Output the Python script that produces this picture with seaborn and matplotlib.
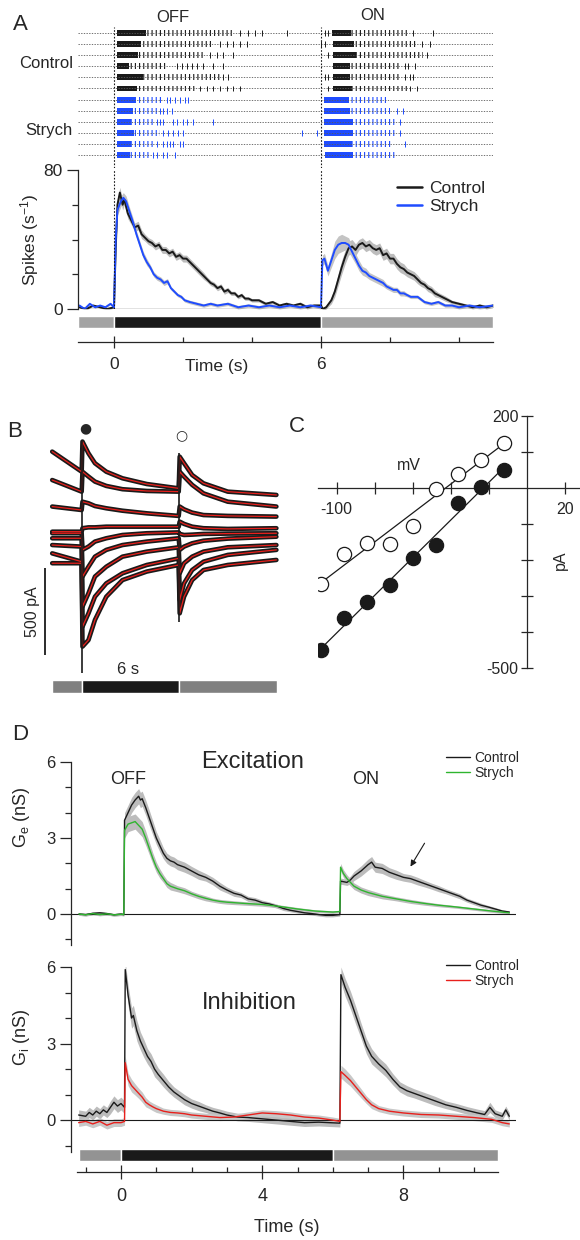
import numpy as np
import matplotlib
matplotlib.use("Agg")
import matplotlib.pyplot as plt
from matplotlib.lines import Line2D
import seaborn as sns

sns.set_theme(style="white")
plt.rcParams["font.family"] = ["Liberation Sans", "DejaVu Sans"]
plt.rcParams["mathtext.fontset"] = "custom"
plt.rcParams["mathtext.rm"] = "Liberation Sans"
plt.rcParams["mathtext.it"] = "Liberation Sans"
plt.rcParams["hatch.linewidth"] = 0.8
plt.rcParams["axes.linewidth"] = 0.9

# ---------------- DATA ----------------
# Panel A raster: per trial (burst start, burst end), sparse spikes (s)
raster_colors = ["k"] * 6 + ["#1f4cff"] * 6
off_burst = [(0.08, 3.46), (0.08, 2.88), (0.08, 2.59), (0.08, 1.53), (0.08, 3.07), (0.08, 2.40),
             (0.08, 1.43), (0.08, 1.24), (0.08, 1.14), (0.08, 1.33), (0.08, 1.14), (0.08, 1.04)]
off_sparse = [[3.65, 3.89, 4.09, 4.28, 5.0], [3.07, 3.27, 3.46, 3.65, 3.85], [2.78, 2.98, 3.17, 3.46],
              [1.82, 1.96, 2.11, 2.25, 2.40, 2.59, 2.88, 3.17], [3.17, 3.31],
              [2.49, 2.69, 2.88, 3.07, 3.27, 3.46, 3.65],
              [1.53, 1.62, 1.77, 1.91, 2.06, 2.15], [1.33, 1.43, 1.53, 1.67],
              [1.24, 1.33, 1.43, 1.72, 1.82, 2.01, 2.11, 2.30, 2.88],
              [1.43, 1.57, 1.72, 1.86, 2.01, 5.44, 5.87], [1.24, 1.43, 1.53, 1.62, 1.72, 1.91, 2.01],
              [1.14, 1.24, 1.43, 1.53, 1.77]]
on_burst = [(6.31, 8.53), (6.36, 8.77), (6.36, 8.97), (6.36, 8.29), (6.36, 8.29), (6.36, 8.48),
            (6.09, 7.90), (6.09, 8.00), (6.09, 8.19), (6.09, 8.19), (6.09, 8.10), (6.12, 8.14)]
on_sparse = [[6.12, 6.21, 8.68, 9.26], [5.99, 6.12, 8.92, 9.16], [6.21, 9.06], [8.43, 8.53, 8.72],
             [6.12, 6.21, 8.43, 8.58, 8.68], [6.21, 8.58, 8.77], [], [8.19, 8.39], [8.29], [8.29],
             [8.43], []]

# Panel A PSTH: (time s, rate spikes/s, sem)
spk_ctrl = [(-1.0,1,0.5),(-0.8,0,0.5),(-0.6,2,0.5),(-0.4,1,0.5),(-0.2,0,0.5),(0.0,1,0.5),(0.05,35,3),
            (0.1,60,3),(0.17,67,3),(0.25,60,3),(0.3,63,3),(0.4,55,3),(0.5,51,2.5),(0.6,47,2.5),
            (0.7,48,2.5),(0.8,43,2.5),(0.9,41,2),(1.0,39,2),(1.1,38,2),(1.2,36,2),(1.3,37,2),(1.4,34,2),
            (1.5,34,2),(1.6,32,2),(1.7,33,2),(1.8,30,2),(1.9,31,2),(2.0,29,2),(2.1,29,2),(2.2,27,2),
            (2.3,25,2),(2.4,23,2),(2.5,21,2),(2.6,19,2),(2.7,17,1.5),(2.8,15,1.5),(2.9,14,1.5),
            (3.0,12,1.5),(3.1,13,1.5),(3.2,10,1.5),(3.3,11,1.5),(3.4,9,1.2),(3.5,9,1.2),(3.6,7,1.2),
            (3.7,8,1.2),(3.8,6,1),(3.9,6,1),(4.0,5,1),(4.2,5,1),(4.4,3,1),(4.6,4,1),(4.8,2,1),(5.0,3,1),
            (5.2,2,1),(5.4,3,1),(5.6,1,1),(5.8,2,1),(6.0,2,1),(6.05,0,1),(6.15,1,1),(6.3,5,2),(6.4,10,3),
            (6.5,17,3.5),(6.6,24,4),(6.7,30,4),(6.8,35,4),(6.9,36,4),(7.0,34,3.5),(7.1,37,3),(7.2,38,3),
            (7.3,36,3),(7.4,37,3),(7.5,35,3),(7.6,34,3),(7.7,35,3),(7.8,31,3),(7.9,32,3),(8.0,29,3),
            (8.1,29,3),(8.2,26,3),(8.3,24,3),(8.4,23,3),(8.5,21,2.5),(8.6,20,2.5),(8.7,19,2.5),
            (8.8,17,2.5),(8.9,15,2),(9.0,14,2),(9.1,12,2),(9.2,11,2),(9.3,9,2),(9.4,8,1.5),(9.5,7,1.5),
            (9.6,6,1.5),(9.8,4,1),(10.0,3,1),(10.2,2,1),(10.4,1,1),(10.6,2,1),(10.8,1,1),(10.99,2,1)]
spk_str = [(-1.0,2,0.5),(-0.85,0,0.5),(-0.7,3,0.5),(-0.55,1,0.5),(-0.4,2,0.5),(-0.25,1,0.5),
           (-0.1,3,0.5),(0.0,1,0.5),(0.05,40,3),(0.1,57,3),(0.2,62,3),(0.27,64,3),(0.35,62,3),
           (0.45,56,2.5),(0.55,50,2.5),(0.65,43,2),(0.75,37,2),(0.85,31,2),(0.95,27,2),(1.05,24,1.5),
           (1.15,20,1.5),(1.25,18,1.5),(1.35,17,1.5),(1.45,15,1.5),(1.55,16,1.5),(1.65,12,1),
           (1.75,10,1),(1.85,8,1),(1.95,7,1),(2.05,5,1),(2.2,4,1),(2.4,3,1),(2.6,2,1),(2.8,3,1),
           (3.0,2,1),(3.3,3,1),(3.6,1,1),(3.9,2,1),(4.2,1,1),(4.5,2,1),(4.8,1,1),(5.1,2,1),(5.4,1,1),
           (5.7,2,1),(6.0,1,1),(6.04,28,3),(6.1,29,3),(6.2,22,3),(6.3,28,4),(6.4,34,5),(6.5,37,5),
           (6.6,38,5),(6.7,38,4),(6.8,37,4),(6.9,33,3.5),(7.0,29,3),(7.1,25,3),(7.2,22,2.5),
           (7.3,21,2.5),(7.4,19,2),(7.5,18,2),(7.6,17,2),(7.7,16,2),(7.8,15,2),(7.9,13,1.5),
           (8.0,12,1.5),(8.1,11,1.5),(8.2,11,1.5),(8.3,9,1.5),(8.4,9,1.5),(8.5,8,1),(8.6,7,1),
           (8.8,7,1),(9.0,4,1),(9.2,3,1),(9.4,4,1),(9.6,2,1),(9.8,2,1),(10.0,1,1),(10.3,2,1),
           (10.6,1,1),(10.99,2,1)]

# Panel B: membrane currents (pA) at several holding potentials
B_t = [-1.84, -0.02, 0.03, 0.4, 0.8, 1.5, 2.5, 4.0, 5.97, 6.03, 6.3, 6.8, 7.5, 9.0, 12.0]
B_traces = [
    [529, 413, 587, 519, 462, 413, 375, 342, 317, 500, 462, 394, 346, 298, 279],
    [365, 298, 413, 385, 356, 331, 312, 302, 298, 413, 385, 337, 288, 240, 212],
    [212, 192, 240, 231, 215, 202, 188, 173, 158, 212, 196, 177, 163, 158, 154],
    [67, 67, 87, 92, 92, 96, 96, 96, 96, 125, 112, 96, 87, 83, 87],
    [58, 58, -38, -19, 10, 29, 48, 58, 63, 54, 48, 50, 54, 56, 58],
    [29, 29, -192, -135, -77, -38, -10, 10, 29, -38, -19, 0, 15, 27, 38],
    [-10, -19, -365, -288, -192, -135, -77, -48, -23, -173, -115, -77, -48, -23, -10],
    [-58, -106, -481, -404, -308, -231, -173, -125, -87, -327, -231, -154, -106, -67, -38],
    [-115, -115, -596, -558, -442, -308, -212, -163, -125, -404, -308, -212, -154, -125, -96],
]
B_artifact = [(0.0, -750, 596), (6.0, -452, 521)]
B_scale_pA = 500

# Panel C: I-V relation
iv_v = [-108, -96, -84, -72, -60, -48, -36, -24, -12]
iv_open = [-266, -184, -154, -155, -105, -2, 39, 78, 126]
iv_filled = [-451, -362, -318, -269, -195, -158, -41, 4, 50]

# Panel D: conductances (time s, mean nS, sem)
ge_ctrl = [(-1.19,0.0,0.05),(-1.0,-0.02,0.05),(-0.8,0.03,0.05),(-0.6,0.05,0.05),(-0.4,0.02,0.05),
           (-0.2,-0.03,0.05),(0.0,0.0,0.05),(0.08,-0.02,0.05),(0.1,3.7,0.3),(0.2,4.0,0.3),(0.3,4.3,0.3),
           (0.4,4.5,0.3),(0.5,4.65,0.3),(0.55,4.5,0.3),(0.6,4.55,0.3),(0.7,4.2,0.3),(0.8,3.8,0.3),
           (0.9,3.4,0.28),(1.0,3.0,0.25),(1.1,2.7,0.25),(1.2,2.4,0.22),(1.3,2.2,0.2),(1.4,2.1,0.2),
           (1.5,2.05,0.2),(1.6,1.95,0.2),(1.8,1.85,0.2),(2.0,1.7,0.18),(2.2,1.55,0.18),(2.4,1.45,0.15),
           (2.6,1.3,0.15),(2.8,1.1,0.15),(3.0,0.95,0.12),(3.2,0.82,0.12),(3.4,0.75,0.1),(3.6,0.6,0.1),
           (3.8,0.55,0.1),(4.0,0.45,0.1),(4.2,0.4,0.08),(4.4,0.32,0.08),(4.6,0.22,0.08),(4.8,0.15,0.06),
           (5.0,0.1,0.06),(5.2,0.05,0.06),(5.4,0.02,0.06),(5.6,-0.02,0.06),(5.8,-0.05,0.06),
           (6.0,-0.05,0.06),(6.2,-0.02,0.06),(6.22,1.3,0.12),(6.4,1.25,0.12),(6.5,1.35,0.15),
           (6.6,1.5,0.18),(6.8,1.7,0.2),(7.0,1.95,0.22),(7.1,2.05,0.22),(7.2,1.85,0.2),(7.4,1.8,0.2),
           (7.6,1.65,0.18),(7.8,1.55,0.18),(8.0,1.45,0.15),(8.2,1.4,0.15),(8.4,1.3,0.15),(8.6,1.2,0.13),
           (8.8,1.1,0.12),(9.0,1.0,0.12),(9.2,0.9,0.1),(9.4,0.8,0.1),(9.6,0.7,0.1),(9.8,0.55,0.08),
           (10.0,0.45,0.08),(10.2,0.35,0.08),(10.4,0.28,0.06),(10.6,0.2,0.06),(10.8,0.12,0.05),
           (11.0,0.08,0.05)]
ge_str = [(-1.19,0.0,0.05),(-1.0,-0.03,0.05),(-0.8,0.02,0.05),(-0.6,-0.02,0.05),(-0.4,0.01,0.05),
          (-0.2,-0.03,0.05),(0.0,-0.01,0.05),(0.08,-0.02,0.05),(0.1,3.3,0.3),(0.2,3.55,0.3),
          (0.3,3.6,0.3),(0.4,3.65,0.3),(0.5,3.5,0.3),(0.6,3.35,0.3),(0.7,3.0,0.28),(0.8,2.6,0.25),
          (0.9,2.2,0.22),(1.0,1.85,0.2),(1.1,1.6,0.18),(1.2,1.4,0.15),(1.3,1.2,0.15),(1.4,1.1,0.15),
          (1.6,1.0,0.12),(1.8,0.92,0.12),(2.0,0.8,0.1),(2.2,0.7,0.1),(2.4,0.62,0.1),(2.6,0.55,0.08),
          (2.8,0.5,0.08),(3.0,0.47,0.08),(3.5,0.42,0.07),(4.0,0.38,0.07),(4.5,0.3,0.06),(5.0,0.2,0.06),
          (5.5,0.12,0.05),(6.0,0.08,0.05),(6.2,0.1,0.05),(6.22,1.85,0.15),(6.3,1.6,0.15),(6.4,1.4,0.15),
          (6.6,1.1,0.13),(6.8,0.95,0.12),(7.0,0.85,0.12),(7.4,0.7,0.1),(7.8,0.6,0.08),(8.2,0.5,0.08),
          (8.6,0.42,0.07),(9.0,0.35,0.06),(9.5,0.28,0.05),(10.0,0.2,0.05),(10.5,0.12,0.05),
          (11.0,0.05,0.05)]
gi_ctrl = [(-1.2,0.2,0.2),(-1.0,0.15,0.2),(-0.9,0.3,0.2),(-0.8,0.2,0.2),(-0.7,0.35,0.2),(-0.6,0.25,0.2),
           (-0.5,0.4,0.2),(-0.4,0.3,0.2),(-0.3,0.5,0.25),(-0.2,0.7,0.25),(-0.1,0.55,0.25),(0.0,0.65,0.25),
           (0.1,0.5,0.25),(0.12,5.9,0.3),(0.2,4.9,0.4),(0.3,4.0,0.4),(0.35,4.1,0.4),(0.45,3.5,0.4),
           (0.55,3.1,0.35),(0.65,2.8,0.35),(0.75,2.5,0.3),(0.85,2.3,0.3),(0.95,2.0,0.3),(1.05,1.8,0.25),
           (1.2,1.55,0.25),(1.35,1.3,0.22),(1.5,1.1,0.2),(1.65,0.95,0.2),(1.8,0.8,0.2),(2.0,0.65,0.18),
           (2.2,0.55,0.18),(2.4,0.45,0.15),(2.6,0.35,0.15),(2.8,0.28,0.15),(3.0,0.2,0.15),(3.3,0.12,0.15),
           (3.6,0.1,0.15),(4.0,0.05,0.15),(4.4,0.0,0.15),(4.8,-0.05,0.15),(5.2,-0.1,0.15),(5.6,-0.08,0.15),
           (5.9,-0.1,0.15),(6.2,-0.12,0.15),(6.23,5.7,0.3),(6.35,5.2,0.35),(6.5,4.7,0.35),(6.65,4.1,0.35),
           (6.8,3.5,0.3),(6.95,2.9,0.3),(7.1,2.5,0.3),(7.3,2.2,0.25),(7.5,1.95,0.25),(7.7,1.6,0.22),
           (7.9,1.3,0.2),(8.1,1.15,0.2),(8.3,1.05,0.18),(8.6,0.9,0.18),(8.9,0.75,0.18),(9.2,0.6,0.15),
           (9.5,0.5,0.15),(9.8,0.38,0.15),(10.1,0.28,0.15),(10.3,0.22,0.15),(10.45,0.5,0.2),(10.6,0.25,0.15),
           (10.8,0.15,0.15),(10.9,0.4,0.15),(11.0,0.15,0.15)]
gi_str = [(-1.2,-0.1,0.15),(-1.0,-0.05,0.15),(-0.8,-0.15,0.15),(-0.6,-0.05,0.15),(-0.4,-0.2,0.15),
          (-0.2,-0.1,0.15),(0.0,-0.1,0.15),(0.1,-0.05,0.15),(0.12,2.25,0.25),(0.2,1.6,0.25),
          (0.3,1.35,0.25),(0.4,1.2,0.22),(0.5,1.05,0.2),(0.6,0.9,0.2),(0.7,0.7,0.18),(0.8,0.6,0.15),
          (0.9,0.52,0.15),(1.0,0.45,0.15),(1.2,0.35,0.12),(1.4,0.3,0.12),(1.6,0.28,0.12),(1.8,0.25,0.12),
          (2.0,0.2,0.12),(2.4,0.15,0.12),(2.8,0.1,0.12),(3.2,0.12,0.12),(3.6,0.2,0.12),(4.0,0.28,0.12),
          (4.4,0.25,0.12),(4.8,0.2,0.12),(5.2,0.12,0.12),(5.6,0.08,0.12),(6.0,0.0,0.12),(6.2,-0.05,0.12),
          (6.23,1.9,0.25),(6.35,1.75,0.25),(6.5,1.55,0.22),(6.65,1.3,0.2),(6.8,1.05,0.18),(6.95,0.8,0.15),
          (7.1,0.6,0.15),(7.3,0.45,0.12),(7.6,0.35,0.12),(8.0,0.28,0.12),(8.5,0.22,0.12),(9.0,0.2,0.12),
          (9.5,0.15,0.12),(10.0,0.1,0.12),(10.5,0.03,0.12),(10.8,-0.1,0.12),(11.0,-0.15,0.12)]

# stimulus timing (s): light off at 0, on at 6
stim_off, stim_on = 0.0, 6.0

# ---------------- FIGURE ----------------
W, H = 580, 1240
fig = plt.figure(figsize=(W / 100, H / 100), dpi=100)


def add_ax(x0, y0, x1, y1):
    ax = fig.add_axes([x0 / W, 1 - y1 / H, (x1 - x0) / W, (y1 - y0) / H])
    ax.set_facecolor("none")
    for s in ax.spines.values():
        s.set_visible(False)
    ax.set_xticks([])
    ax.set_yticks([])
    ax.grid(False)
    return ax


def ftext(x, y, s, **kw):
    kw.setdefault("ha", "center")
    kw.setdefault("va", "center")
    fig.text(x / W, 1 - y / H, s, **kw)


def trace(ax, series, color, band_color, lw=1.2):
    t, m, s = (np.array(a, dtype=float) for a in zip(*series))
    ax.fill_between(t, m - s, m + s, color=band_color, lw=0)
    sns.lineplot(x=t, y=m, ax=ax, color=color, lw=lw, estimator=None, sort=False, legend=False)


def stim_bar(ax, tmin, tmax, y, h, gray):
    ax.broken_barh([(tmin, stim_off - tmin)], (y, h), facecolors=gray)
    ax.broken_barh([(stim_off, stim_on - stim_off)], (y, h), facecolors="k")
    ax.broken_barh([(stim_on, tmax - stim_on)], (y, h), facecolors=gray)


# ===== Panel A =====
A_xlim = ((78 - 114) / 34.5, (493 - 114) / 34.5)
axr = add_ax(78, 27, 493, 168)
axr.set_xlim(*A_xlim)
axr.set_ylim((168 - 33) / 11.1, (27 - 33) / 11.1)
for i in range(12):
    c = raster_colors[i]
    frac = 0.25 if i < 6 else 0.4
    axr.hlines(i, A_xlim[0], A_xlim[1], colors="0.35", lw=0.6, linestyles=(0, (1.6, 1.6)))
    for (b0, b1) in (off_burst[i], on_burst[i]):
        solid = b0 + frac * (b1 - b0)
        axr.broken_barh([(b0, solid - b0)], (i - 0.27, 0.54), facecolors=c, lw=0)
        axr.broken_barh([(solid, b1 - solid)], (i - 0.27, 0.54), facecolors="none",
                        edgecolors=c, hatch="||||", lw=0)
    axr.eventplot([off_sparse[i] + on_sparse[i]], lineoffsets=i, linelengths=0.54,
                  linewidths=0.7, colors=c)
for tv in (stim_off, stim_on):
    axr.axvline(tv, color="k", lw=0.8, ls=(0, (1.5, 1.5)))

axs = add_ax(78, 170, 493, 309)
axs.set_xlim(*A_xlim)
axs.set_ylim(0, 80)
trace(axs, spk_ctrl, "k", "#bdbdbd", lw=1.4)
trace(axs, spk_str, "#1f4cff", "#c4c4c4", lw=1.4)
for tv in (stim_off, stim_on):
    axs.axvline(tv, color="k", lw=0.8, ls=(0, (1.5, 1.5)))
axs.axhline(0, color="k", lw=0.9)
axs.spines["left"].set_visible(True)
axs.set_yticks([0, 80])
axs.set_yticklabels(["0", "80"], fontsize=12.5)
axs.set_yticks([20, 40, 60], minor=True)
axs.tick_params(axis="y", which="major", direction="out", length=8, width=0.9, pad=3, left=True)
axs.tick_params(axis="y", which="minor", direction="out", length=4.5, width=0.9, left=True)
ftext(30, 240, "Spikes (s$^{-1}$)", rotation=90, fontsize=12.5)
axs.legend(handles=[Line2D([], [], color="k", lw=1.8), Line2D([], [], color="#1f4cff", lw=1.8)],
           labels=["Control", "Strych"], loc="upper left",
           bbox_to_anchor=(397 / W, 1 - 181 / H), bbox_transform=fig.transFigure,
           frameon=False, fontsize=12.5, handlelength=1.45, handletextpad=0.4,
           labelspacing=0.15, borderpad=0, borderaxespad=0)

axb = add_ax(78, 312, 493, 342)
axb.set_xlim(*A_xlim)
axb.set_ylim(0, 30)
stim_bar(axb, A_xlim[0], A_xlim[1], 14, 12, "#a3a3a3")
axb.spines["bottom"].set_visible(True)
axb.spines["bottom"].set_bounds(*A_xlim)
axb.set_xticks([0, 6])
axb.set_xticklabels(["0", "6"], fontsize=12.5)
axb.set_xticks([2, 4, 8, 10], minor=True)
axb.tick_params(axis="x", which="major", direction="inout", length=9, width=0.9, pad=6, bottom=True)
axb.tick_params(axis="x", which="minor", direction="in", length=3.5, width=0.9, bottom=True)
ftext(217, 366, "Time (s)", fontsize=12.5)

ftext(20, 25, "A", fontsize=16)
ftext(173, 17, "OFF", fontsize=12)
ftext(373, 16, "ON", fontsize=12)
ftext(73, 64, "Control", fontsize=12, ha="right")
ftext(73, 131, "Strych", fontsize=12, ha="right")

# ===== Panel B =====
pxs = 16.2
pa_px = 0.52 / 3
axB = add_ax(30, 415, 282, 700)
axB.set_xlim((30 - 82) / pxs, (282 - 82) / pxs)
axB.set_ylim((543.3 - 700) / pa_px, (543.3 - 415) / pa_px)
for tr in B_traces:
    sns.lineplot(x=B_t, y=tr, ax=axB, color="k", lw=3.3, estimator=None, sort=False, legend=False)
for tr in B_traces:
    sns.lineplot(x=B_t, y=tr, ax=axB, color="#e8201c", lw=0.9, estimator=None, sort=False, legend=False)
for (tv, lo, hi) in B_artifact:
    axB.vlines(tv, lo, hi, color="k", lw=1.2)
stim_bar(axB, (52 - 82) / pxs, (277 - 82) / pxs, (543.3 - 693) / pa_px, 13 / pa_px, "#808080")
sb_x = (45 - 82) / pxs
sb_y0 = (543.3 - 655) / pa_px
axB.vlines(sb_x, sb_y0, sb_y0 + B_scale_pA, color="k", lw=1.3)
ftext(33, 612, "500 pA", rotation=90, fontsize=11.5)
ftext(128, 670, "6 s", fontsize=12)
ftext(15, 431, "B", fontsize=16)
ftext(85, 428, "\u25cf", fontsize=10, family=["DejaVu Sans"])
ftext(181, 435, "\u25cb", fontsize=10, family=["DejaVu Sans"])

# ===== Panel C =====
axC = add_ax(318, 416, 580, 668)
axC.set_xlim((318 - 527) / 1.903, (580 - 527) / 1.903)
axC.set_ylim(-500, 200)
axC.spines["left"].set_visible(True)
axC.spines["bottom"].set_visible(True)
axC.spines["left"].set_position(("data", 0))
axC.spines["bottom"].set_position(("data", 0))
axC.spines["left"].set_bounds(-500, 200)
sns.regplot(x=iv_v, y=iv_open, ax=axC, ci=None, scatter=False, color="k", line_kws=dict(lw=0.9))
sns.regplot(x=iv_v, y=iv_filled, ax=axC, ci=None, scatter=False, color="k", line_kws=dict(lw=0.9))
sns.scatterplot(x=iv_v, y=iv_open, ax=axC, s=105, facecolor="white", edgecolor="k", linewidth=0.9, zorder=5)
sns.scatterplot(x=iv_v, y=iv_filled, ax=axC, s=105, color="k", edgecolor="k", linewidth=0.9, zorder=5)
axC.set_xlabel("")
axC.set_ylabel("")
axC.set_xticks([-100, -80, -60, -40, -20, 20])
axC.set_xticklabels(["-100", "", "", "", "", "20"], fontsize=11.5)
axC.set_yticks([-500, -400, -300, -200, -100, 100, 200])
axC.set_yticklabels(["-500", "", "", "", "", "", "200"], fontsize=11.5)
axC.tick_params(axis="x", direction="inout", length=8, width=0.9, pad=6, bottom=True)
axC.tick_params(axis="y", direction="inout", length=8, width=0.9, pad=2, left=True)
ftext(409, 465, "mV", fontsize=11.5)
ftext(560, 560, "pA", rotation=90, fontsize=11.5)
ftext(297, 427, "C", fontsize=16)

# ===== Panel D =====
D_xlim = ((71 - 121) / 35.3, (516 - 121) / 35.3)
axE = add_ax(71, 762, 516, 945)
axI = add_ax(71, 967, 516, 1152)
axE.set_ylim(-1.22, 6)
axI.set_ylim(-1.25, 6)
for ax in (axE, axI):
    ax.set_xlim(*D_xlim)
    ax.axhline(0, color="k", lw=0.8)
    ax.spines["left"].set_visible(True)
    ax.set_yticks([0, 3, 6])
    ax.set_yticklabels(["0", "3", "6"], fontsize=12)
    ax.set_yticks([-1, 1, 2, 4, 5], minor=True)
    ax.tick_params(axis="y", which="major", direction="out", length=8, width=0.9, pad=3, left=True)
    ax.tick_params(axis="y", which="minor", direction="out", length=4.5, width=0.9, left=True)
trace(axE, ge_ctrl, "k", "#bcbcbc", lw=1.0)
trace(axE, ge_str, "#2fb52f", "#bcbcbc", lw=1.0)
trace(axI, gi_ctrl, "k", "#bcbcbc", lw=1.0)
trace(axI, gi_str, "#e8201c", "#c8c8c8", lw=1.0)
axE.annotate("", xy=(8.16, 1.78), xytext=(8.64, 2.89),
             arrowprops=dict(arrowstyle="-|>", color="k", lw=0.8, mutation_scale=9))
for ax, col, ytop in ((axE, "#2fb52f", 751), (axI, "#e8201c", 959)):
    ax.legend(handles=[Line2D([], [], color="k", lw=1.0), Line2D([], [], color=col, lw=1.0)],
              labels=["Control", "Strych"], loc="upper left",
              bbox_to_anchor=(446 / W, 1 - ytop / H), bbox_transform=fig.transFigure,
              frameon=False, fontsize=10, handlelength=1.7, handletextpad=0.35,
              labelspacing=0.05, borderpad=0, borderaxespad=0)

axT = add_ax(71, 1147, 516, 1172)
axT.set_xlim(*D_xlim)
axT.set_ylim(0, 25)
stim_bar(axT, -1.19, 10.68, 11, 12, "#939393")
axT.spines["bottom"].set_visible(True)
axT.spines["bottom"].set_bounds(-1.24, 10.68)
axT.set_xticks([0, 4, 8])
axT.set_xticklabels(["0", "4", "8"], fontsize=13)
axT.set_xticks([-1, 1, 2, 3, 5, 6, 7, 9, 10], minor=True)
axT.tick_params(axis="x", which="major", direction="inout", length=9.5, width=0.9, pad=7, bottom=True)
axT.tick_params(axis="x", which="minor", direction="in", length=3.5, width=0.9, bottom=True)
ftext(287, 1228, "Time (s)", fontsize=13)

ftext(22, 817, "G$_\\mathregular{e}$ (nS)", rotation=90, fontsize=13)
ftext(22, 1037, "G$_\\mathregular{i}$ (nS)", rotation=90, fontsize=13)
ftext(20, 735, "D", fontsize=16)
ftext(253, 762, "Excitation", fontsize=17)
ftext(128, 779, "OFF", fontsize=13)
ftext(366, 779, "ON", fontsize=13)
ftext(249, 1003, "Inhibition", fontsize=17)

fig.savefig("out.png", dpi=100)
